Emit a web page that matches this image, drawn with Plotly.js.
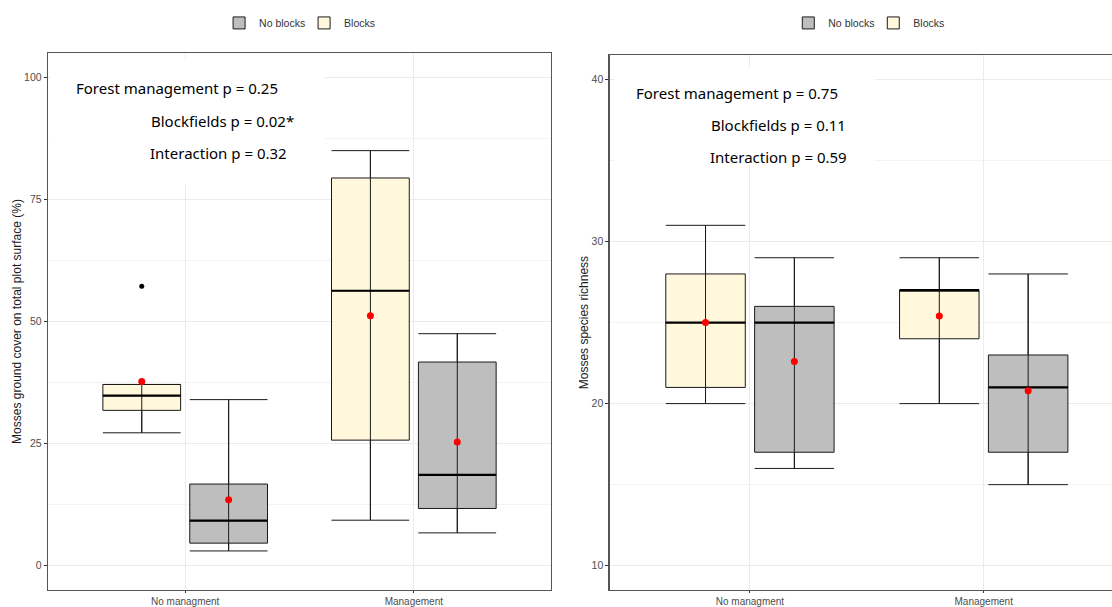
<!DOCTYPE html>
<html>
<head>
<meta charset="utf-8">
<script src="https://cdn.plot.ly/plotly-3.0.1.min.js"></script>
<style>
  html, body { margin: 0; padding: 0; background: #fff; overflow: hidden; }
  #chart { width: 1127px; height: 607px; }
</style>
</head>
<body>
<div id="chart"></div>
<script>
// Treatment levels on the x axis
const categories = ["No managment", "Management"];

// Mosses ground cover (%) — box statistics per management level
const coverBlocksLow    = [27.2, 9.3];
const coverBlocksQ1     = [31.8, 25.7];
const coverBlocksMedian = [34.8, 56.3];
const coverBlocksQ3     = [37.1, 79.4];
const coverBlocksHigh   = [37.1, 85.0];
const coverBlocksMean   = [37.7, 51.2];

const coverNoBlocksLow    = [3.0, 6.7];
const coverNoBlocksQ1     = [4.6, 11.7];
const coverNoBlocksMedian = [9.2, 18.6];
const coverNoBlocksQ3     = [16.7, 41.7];
const coverNoBlocksHigh   = [34.0, 47.5];
const coverNoBlocksMean   = [13.5, 25.3];

// Outlying plot (Blocks, No managment)
const coverOutlierCategory = [0];
const coverOutlierValue    = [57.2];

// Mosses species richness — box statistics per management level
const richBlocksLow    = [20, 20];
const richBlocksQ1     = [21, 24];
const richBlocksMedian = [25, 27];
const richBlocksQ3     = [28, 27];
const richBlocksHigh   = [31, 29];
const richBlocksMean   = [25.0, 25.4];

const richNoBlocksLow    = [16, 15];
const richNoBlocksQ1     = [17, 17];
const richNoBlocksMedian = [25, 21];
const richNoBlocksQ3     = [26, 23];
const richNoBlocksHigh   = [29, 28];
const richNoBlocksMean   = [22.6, 20.8];

// Statistical test results shown in each panel
const coverTests = ["Forest management p = 0.25", "Blockfields p = 0.02*", "Interaction p = 0.32"];
const richTests  = ["Forest management p = 0.75", "Blockfields p = 0.11", "Interaction p = 0.59"];

// ---- drawing helpers ----
const DODGE = 0.19;      // offset of each group member from the category centre
const BOXW = 0.34;       // box width in axis units
const CREAM = "#FFF8DC";
const GREY = "#BEBEBE";
const EDGE = "#1a1a1a";

function positions(n, side) {
  return Array.from({length: n}, (_, i) => i + 1 + side * DODGE);
}

function groupTraces(opts) {
  const xs = positions(opts.low.length, opts.side);
  const box = {
    type: "box",
    name: opts.name,
    x: xs,
    q1: opts.q1, median: opts.median, q3: opts.q3,
    lowerfence: opts.low, upperfence: opts.high,
    width: BOXW,
    whiskerwidth: 1,
    fillcolor: opts.fill,
    line: {color: EDGE, width: 1},
    boxpoints: false,
    xaxis: opts.xaxis, yaxis: opts.yaxis,
    legend: opts.legend,
    hoverinfo: "skip"
  };
  // vertical error-bar line running through each box, and a heavier median bar
  const wx = [], wy = [], mx = [], my = [];
  xs.forEach((c, i) => {
    wx.push(c, c, null); wy.push(opts.low[i], opts.high[i], null);
    mx.push(c - BOXW / 2, c + BOXW / 2, null); my.push(opts.median[i], opts.median[i], null);
  });
  const whisk = {
    type: "scatter", mode: "lines", x: wx, y: wy,
    line: {color: EDGE, width: 1}, showlegend: false, hoverinfo: "skip",
    xaxis: opts.xaxis, yaxis: opts.yaxis
  };
  const med = {
    type: "scatter", mode: "lines", x: mx, y: my,
    line: {color: "#000", width: 2.2}, showlegend: false, hoverinfo: "skip",
    xaxis: opts.xaxis, yaxis: opts.yaxis
  };
  const mean = {
    type: "scatter", mode: "markers", x: xs, y: opts.mean,
    marker: {color: "#ff0000", size: 7}, showlegend: false, hoverinfo: "skip",
    xaxis: opts.xaxis, yaxis: opts.yaxis
  };
  return [box, whisk, med, mean];
}

const traces = [];
// left panel: ground cover
traces.push(...groupTraces({name: "No blocks", side: +1, fill: GREY,
  low: coverNoBlocksLow, q1: coverNoBlocksQ1, median: coverNoBlocksMedian, q3: coverNoBlocksQ3,
  high: coverNoBlocksHigh, mean: coverNoBlocksMean, xaxis: "x", yaxis: "y", legend: "legend"}));
traces.push(...groupTraces({name: "Blocks", side: -1, fill: CREAM,
  low: coverBlocksLow, q1: coverBlocksQ1, median: coverBlocksMedian, q3: coverBlocksQ3,
  high: coverBlocksHigh, mean: coverBlocksMean, xaxis: "x", yaxis: "y", legend: "legend"}));
traces.push({
  type: "scatter", mode: "markers",
  x: coverOutlierCategory.map(i => i + 1 - DODGE), y: coverOutlierValue,
  marker: {color: "#000", size: 5}, showlegend: false, hoverinfo: "skip",
  xaxis: "x", yaxis: "y"
});
// right panel: species richness
traces.push(...groupTraces({name: "No blocks", side: +1, fill: GREY,
  low: richNoBlocksLow, q1: richNoBlocksQ1, median: richNoBlocksMedian, q3: richNoBlocksQ3,
  high: richNoBlocksHigh, mean: richNoBlocksMean, xaxis: "x2", yaxis: "y2", legend: "legend2"}));
traces.push(...groupTraces({name: "Blocks", side: -1, fill: CREAM,
  low: richBlocksLow, q1: richBlocksQ1, median: richBlocksMedian, q3: richBlocksQ3,
  high: richBlocksHigh, mean: richBlocksMean, xaxis: "x2", yaxis: "y2", legend: "legend2"}));

const tickFont = {family: "Liberation Sans, Arial, sans-serif", size: 10, color: "#4d4d4d"};
const titleFont = {family: "Liberation Sans, Arial, sans-serif", size: 12, color: "#1a1a1a"};

function xAxis(domain, anchor) {
  return {
    domain: domain, anchor: anchor, range: [0.4, 2.6],
    tickmode: "array", tickvals: categories.map((_, i) => i + 1), ticktext: categories,
    showgrid: true, gridcolor: "#ebebeb", gridwidth: 1,
    ticks: "outside", ticklen: 2, tickcolor: "#333",
    showline: true, linecolor: "#555", linewidth: 1.3, mirror: true,
    zeroline: false, tickfont: tickFont, automargin: false, fixedrange: true
  };
}
function yAxis(domain, anchor, range, dtick, title) {
  return {
    domain: domain, anchor: anchor, range: range,
    tick0: 0, dtick: dtick,
    minor: {dtick: dtick / 2, showgrid: true, gridcolor: "#f3f3f3", gridwidth: 1, ticks: ""},
    showgrid: true, gridcolor: "#ebebeb", gridwidth: 1,
    ticks: "outside", ticklen: 3, tickcolor: "#333",
    showline: true, linecolor: "#555", linewidth: 1.3, mirror: true,
    zeroline: false, tickfont: {family: tickFont.family, size: 10.5, color: tickFont.color},
    title: {text: title, font: titleFont, standoff: 0},
    automargin: false, fixedrange: true
  };
}

const annFont = {family: "Noto Sans, Open Sans, sans-serif", size: 15, color: "#000"};
function testNotes(texts, xref, yref, xs, ys) {
  return texts.map((t, i) => ({
    text: t, xref: xref, yref: yref, x: xs[i], y: ys[i],
    xanchor: "left", yanchor: "middle", showarrow: false, font: annFont
  }));
}

const legendFont = {family: "Liberation Sans, Arial, sans-serif", size: 10.5, color: "#333"};

const layout = {
  width: 1127, height: 607,
  margin: {l: 48, r: 3, t: 53, b: 17},
  paper_bgcolor: "#fff", plot_bgcolor: "#fff",
  boxmode: "overlay",
  xaxis: xAxis([0, 0.4675], "y"),
  yaxis: yAxis([0, 1], "x", [-5, 105], 25, "Mosses ground cover on total plot surface (%)"),
  xaxis2: xAxis([0.522, 1], "y2"),
  yaxis2: yAxis([0, 0.996], "x2", [8.5, 41.5], 10, "Mosses species richness"),
  legend: {
    orientation: "h", x: 0.238, xanchor: "center", y: 1.056, yanchor: "middle",
    traceorder: "normal", font: legendFont, itemwidth: 30,
    entrywidth: 40, entrywidthmode: "pixels", bgcolor: "rgba(0,0,0,0)"
  },
  legend2: {
    orientation: "h", x: 0.767, xanchor: "center", y: 1.056, yanchor: "middle",
    traceorder: "normal", font: legendFont, itemwidth: 30,
    entrywidth: 40, entrywidthmode: "pixels", bgcolor: "rgba(0,0,0,0)"
  },
  // white panels behind the test results
  shapes: [
    {type: "rect", xref: "x domain", yref: "y domain", x0: 0.004, x1: 0.55, y0: 0.755, y1: 0.988,
     fillcolor: "#fff", line: {width: 0}, layer: "above"},
    {type: "rect", xref: "x2 domain", yref: "y2 domain", x0: 0.01, x1: 0.516, y0: 0.794, y1: 0.977,
     fillcolor: "#fff", line: {width: 0}, layer: "above"}
  ],
  annotations: [
    ...testNotes(coverTests, "x domain", "y domain", [0.051, 0.2, 0.198], [0.9356, 0.8741, 0.8145]),
    ...testNotes(richTests, "x2 domain", "y2 domain", [0.047, 0.193, 0.191], [0.930, 0.8685, 0.8087])
  ]
};

Plotly.newPlot("chart", traces, layout, {displayModeBar: false, staticPlot: true});
</script>
</body>
</html>
